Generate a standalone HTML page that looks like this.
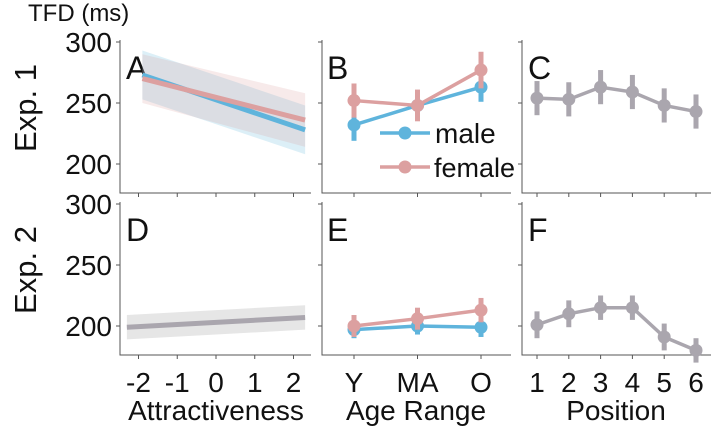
<!DOCTYPE html>
<html><head><meta charset="utf-8"><style>
body{margin:0;background:#fff;width:714px;height:427px;overflow:hidden}
text{font-family:"Liberation Sans",sans-serif;fill:#111}
</style></head><body>
<svg id="c" width="714" height="427" xmlns="http://www.w3.org/2000/svg"></svg>
<script>
const attrTicks=[-2,-1,0,1,2];
const ageCats=["Y","MA","O"];
const posCats=[1,2,3,4,5,6];
const yTicks=[200,250,300];
const aMale=[273,228], aFemale=[270,236], aX=[-1.9,2.3];
const dLine=[199,207], dX=[-2.3,2.3], dBand=10;
const bMale=[232,248,263], bMaleErr=[13,12,12];
const bFemale=[252,248,277], bFemaleErr=[14,13,15];
const cVals=[254,253,263,259,248,243], cErr=[14,14,14,14,14,14];
const eMale=[197,200,199], eMaleErr=[7,7,8];
const eFemale=[200,206,213], eFemaleErr=[9,9,10];
const fVals=[201,210,215,215,191,180], fErr=[11,11,10,10,11,10];
const BLUE="#5fb4dc", PINK="#dca0a0", GRAY="#aaa6ae";
const svg=document.getElementById('c');
const NS="http://www.w3.org/2000/svg";
function el(t,a,name){const e=document.createElementNS(NS,t);for(const k in a)e.setAttribute(k,a[k]);


svg.appendChild(e);return e;}
function txt(s,x,y,size,name,anchor,extra){const e=el('text',Object.assign({x:x,y:y,'font-size':size,'text-anchor':anchor||'start'},extra||{}),name);e.textContent=s;return e;}
const rows=[{top:42,y200:164,bottom:193},{top:204,y200:326,bottom:355}];
function ys(r){return v=>rows[r].y200-(v-200)*1.22;}
const cols=[{l:120,r:311},{l:322,r:511},{l:522,r:711}];
const xA=v=>216+v*38.75, xAge=i=>354+i*63.5, xPos=i=>537+i*31.8;
for(let r=0;r<2;r++)for(let c=0;c<3;c++){const C=cols[c],R=rows[r];
el('path',{d:`M${C.l},${R.top-2}V${R.bottom}H${C.r}`,fill:'none',stroke:'#555','stroke-width':1},'axis-frame');
const y=ys(r);yTicks.forEach(t=>el('line',{x1:C.l-4,x2:C.l,y1:y(t),y2:y(t),stroke:'#555'},'y-tick'));
const xs=c==0?attrTicks.map(xA):c==1?ageCats.map((_,i)=>xAge(i)):posCats.map((_,i)=>xPos(i));
xs.forEach(x=>el('line',{x1:x,x2:x,y1:R.bottom,y2:R.bottom+4,stroke:'#555'},'x-tick'));}
[0,1].forEach(r=>{const y=ys(r);yTicks.forEach(t=>txt(String(t),112,y(t)+10,28,'y-tick-label','end'));});
attrTicks.forEach(t=>txt(String(t),xA(t),392,28,'x-tick-label','middle'));
ageCats.forEach((t,i)=>txt(t,xAge(i),392,28,'x-tick-label','middle'));
posCats.forEach((t,i)=>txt(String(t),xPos(i),392,28,'x-tick-label','middle'));
txt('Attractiveness',216,420,28,'x-axis-title','middle');
txt('Age Range',416,420,28,'x-axis-title','middle');
txt('Position',616,420,28,'x-axis-title','middle');
txt('TFD (ms)',28,21,24,'y-axis-title');
txt('Exp. 1',36,108,31,'row-label','middle',{transform:'rotate(-90 36 108)'});
txt('Exp. 2',36,270,31,'row-label','middle',{transform:'rotate(-90 36 270)'});
[['A',126,79],['B',327,79],['C',528,79],['D',126,241],['E',327,241],['F',528,241]].forEach(p=>txt(p[0],p[1],p[2],32,'panel-letter-'+p[0].toLowerCase()));
const yA=ys(0);
function regBand(vals,x,w0,w1,col,op,name){
const y0=vals[0],y1=vals[1];
el('polygon',{points:`${xA(x[0])},${yA(y0+w0)} ${xA(x[1])},${yA(y1+w1)} ${xA(x[1])},${yA(y1-w1)} ${xA(x[0])},${yA(y0-w0)}`,fill:col,'fill-opacity':op},name);}
regBand(aMale,aX,20,20,BLUE,0.22,'male-ci-band');
regBand(aFemale,aX,20,22,PINK,0.22,'female-ci-band');
el('line',{x1:xA(aX[0]),y1:yA(aMale[0]),x2:xA(aX[1]),y2:yA(aMale[1]),stroke:BLUE,'stroke-width':5},'male-regression-line');
el('line',{x1:xA(aX[0]),y1:yA(aFemale[0]),x2:xA(aX[1]),y2:yA(aFemale[1]),stroke:PINK,'stroke-width':5},'female-regression-line');
const yD=ys(1);
el('polygon',{points:`${xA(dX[0])},${yD(dLine[0]+dBand)} ${xA(dX[1])},${yD(dLine[1]+dBand)} ${xA(dX[1])},${yD(dLine[1]-dBand)} ${xA(dX[0])},${yD(dLine[0]-dBand)}`,fill:'#e6e6e6'},'ci-band');
el('line',{x1:xA(dX[0]),y1:yD(dLine[0]),x2:xA(dX[1]),y2:yD(dLine[1]),stroke:GRAY,'stroke-width':5},'regression-line');
function series(vals,err,xf,y,col,name){
el('polyline',{points:vals.map((v,i)=>`${xf(i)},${y(v)}`).join(' '),fill:'none',stroke:col,'stroke-width':3.5},name+'-line');
vals.forEach((v,i)=>{el('line',{x1:xf(i),x2:xf(i),y1:y(v-err[i]),y2:y(v+err[i]),stroke:col,'stroke-width':5},name+'-errorbar');
el('circle',{cx:xf(i),cy:y(v),r:6.5,fill:col},name+'-point');});}
series(bMale,bMaleErr,xAge,ys(0),BLUE,'male');
series(bFemale,bFemaleErr,xAge,ys(0),PINK,'female');
series(eMale,eMaleErr,xAge,ys(1),BLUE,'male');
series(eFemale,eFemaleErr,xAge,ys(1),PINK,'female');
series(cVals,cErr,xPos,ys(0),GRAY,'position');
series(fVals,fErr,xPos,ys(1),GRAY,'position');
el('line',{x1:380,x2:430,y1:133,y2:133,stroke:BLUE,'stroke-width':3.5},'legend-male-line');
el('circle',{cx:405,cy:133,r:6.5,fill:BLUE},'legend-male-marker');
txt('male',435,143,28,'legend-male-label');
el('line',{x1:380,x2:430,y1:167,y2:167,stroke:PINK,'stroke-width':3.5},'legend-female-line');
el('circle',{cx:405,cy:167,r:6.5,fill:PINK},'legend-female-marker');
txt('female',434,177,27,'legend-female-label');
</script>
</body></html>
